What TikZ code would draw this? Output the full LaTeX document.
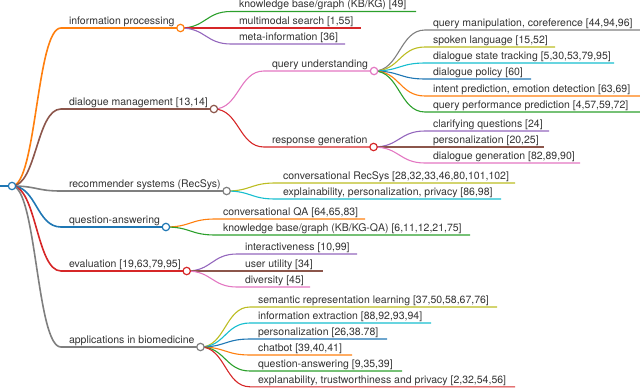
\documentclass[tikz,border=0pt]{standalone}
\usepackage{fontspec}
\setmainfont{TeX Gyre Heros}
\usepackage{xcolor}
\usetikzlibrary{calc}

\definecolor{tblue}{HTML}{1F77B4}
\definecolor{torange}{HTML}{FF7F0E}
\definecolor{tgreen}{HTML}{2CA02C}
\definecolor{tred}{HTML}{D62728}
\definecolor{tpurple}{HTML}{9467BD}
\definecolor{tbrown}{HTML}{8C564B}
\definecolor{tpink}{HTML}{E377C2}
\definecolor{tgray}{HTML}{7F7F7F}
\definecolor{tolive}{HTML}{BCBD22}
\definecolor{tcyan}{HTML}{17BECF}

\begin{document}
\begin{tikzpicture}[x=1pt, y=-1pt,
  lbl/.style={anchor=base west, inner xsep=6pt, inner ysep=0pt, outer sep=0pt,
    font=\fontsize{10.5}{12}\selectfont, text=black!80},
  curve/.style={to path={let \p1=(\tikztostart), \p2=(\tikztotarget) in
    .. controls ({(\x1+\x2)/2},\y1) and ({(\x1+\x2)/2},\y2) .. (\tikztotarget)}},
  rootln/.style={line width=2.6pt},
  mainln/.style={line width=1.6pt, curve},
  subln/.style={line width=1.1pt, curve},
  dot/.style={circle, minimum size=7.4pt, inner sep=0pt, line width=1.2pt, fill=white}]
  \useasboundingbox (0,0) rectangle (640,388);

  % Root
  \coordinate (rootS) at (0,186);
  \coordinate (rootC) at (12,186);
  \draw[rootln, tblue] (rootS) -- (rootC);

  % First level
  \coordinate (infS) at (61,28);
  \node[lbl] (inf) at ([shift={(2,-3.5)}]infS) {information processing};
  \coordinate (infC) at (infS -| inf.east);
  \draw[mainln, torange] (rootC) to (infS) -- (infC);

  \coordinate (dmS) at (61,109);
  \node[lbl] (dm) at ([shift={(2,-3.5)}]dmS) {dialogue management [13,14]};
  \coordinate (dmC) at (dmS -| dm.east);
  \draw[mainln, tbrown] (rootC) to (dmS) -- (dmC);

  \coordinate (rsS) at (61,191);
  \node[lbl] (rs) at ([shift={(2,-3.5)}]rsS) {recommender systems (RecSys)};
  \coordinate (rsC) at (rsS -| rs.east);
  \draw[mainln, tgray] (rootC) to (rsS) -- (rsC);

  \coordinate (qaS) at (61,227);
  \node[lbl] (qa) at ([shift={(2,-3.5)}]qaS) {question-answering};
  \coordinate (qaC) at (qaS -| qa.east);
  \draw[mainln, tblue] (rootC) to (qaS) -- (qaC);

  \coordinate (evS) at (61,271);
  \node[lbl] (ev) at ([shift={(2,-3.5)}]evS) {evaluation [19,63,79,95]};
  \coordinate (evC) at (evS -| ev.east);
  \draw[mainln, tred] (rootC) to (evS) -- (evC);

  \coordinate (apS) at (61,347);
  \node[lbl] (ap) at ([shift={(2,-3.5)}]apS) {applications in biomedicine};
  \coordinate (apC) at (apS -| ap.east);
  \draw[mainln, tgray] (rootC) to (apS) -- (apC);

  % Information processing
  \coordinate (kbS) at (231,11.5); \coordinate (kbE) at (416,11.5);
  \node[lbl] (kb) at ([shift={(2,-3.5)}]kbS) {knowledge base/graph (KB/KG) [49]};
  \draw[subln, tgreen] (infC) to (kbS) -- (kbE);

  \coordinate (mmS) at (231,28); \coordinate (mmE) at (361,28);
  \node[lbl] (mm) at ([shift={(2,-3.5)}]mmS) {multimodal search [1,55]};
  \draw[subln, tred] (infC) to (mmS) -- (mmE);

  \coordinate (miS) at (231,44); \coordinate (miE) at (345,44);
  \node[lbl] (mi) at ([shift={(2,-3.5)}]miS) {meta-information [36]};
  \draw[subln, tpurple] (infC) to (miS) -- (miE);

  % Dialogue management
  \coordinate (quS) at (264,71);
  \node[lbl] (qu) at ([shift={(2,-3.5)}]quS) {query understanding};
  \coordinate (quC) at (quS -| qu.east);
  \draw[subln, tpink] (dmC) to (quS) -- (quC);

  \coordinate (rgS) at (264,147);
  \node[lbl] (rg) at ([shift={(2,-3.5)}]rgS) {response generation};
  \coordinate (rgC) at (rgS -| rg.east);
  \draw[subln, tred] (dmC) to (rgS) -- (rgC);

  % Query understanding
  \coordinate (qmS) at (425,30); \coordinate (qmE) at (640,30);
  \node[lbl] (qm) at ([shift={(2,-3.5)}]qmS) {query manipulation, coreference [44,94,96]};
  \draw[subln, tgray] (quC) to (qmS) -- (qmE);

  \coordinate (slS) at (425,47); \coordinate (slE) at (555,47);
  \node[lbl] (sl) at ([shift={(2,-3.5)}]slS) {spoken language [15,52]};
  \draw[subln, tolive] (quC) to (slS) -- (slE);

  \coordinate (dstS) at (425,63); \coordinate (dstE) at (614,63);
  \node[lbl] (dst) at ([shift={(2,-3.5)}]dstS) {dialogue state tracking [5,30,53,79,95]};
  \draw[subln, tcyan] (quC) to (dstS) -- (dstE);

  \coordinate (dpS) at (425,79); \coordinate (dpE) at (531,79);
  \node[lbl] (dp) at ([shift={(2,-3.5)}]dpS) {dialogue policy [60]};
  \draw[subln, tblue] (quC) to (dpS) -- (dpE);

  \coordinate (iedS) at (425,96); \coordinate (iedE) at (640,96);
  \node[lbl] (ied) at ([shift={(2,-3.5)}]iedS) {intent prediction, emotion detection [63,69]};
  \draw[subln, torange] (quC) to (iedS) -- (iedE);

  \coordinate (qppS) at (425,112); \coordinate (qppE) at (640,112);
  \node[lbl] (qpp) at ([shift={(2,-3.5)}]qppS) {query performance prediction [4,57,59,72]};
  \draw[subln, tgreen] (quC) to (qppS) -- (qppE);

  % Response generation
  \coordinate (cqS) at (425,131); \coordinate (cqE) at (549,131);
  \node[lbl] (cq) at ([shift={(2,-3.5)}]cqS) {clarifying questions [24]};
  \draw[subln, tpurple] (rgC) to (cqS) -- (cqE);

  \coordinate (pzS) at (425,147); \coordinate (pzE) at (544,147);
  \node[lbl] (pz) at ([shift={(2,-3.5)}]pzS) {personalization [20,25]};
  \draw[subln, tbrown] (rgC) to (pzS) -- (pzE);

  \coordinate (dgS) at (425,163); \coordinate (dgE) at (580,163);
  \node[lbl] (dg) at ([shift={(2,-3.5)}]dgS) {dialogue generation [82,89,90]};
  \draw[subln, tpink] (rgC) to (dgS) -- (dgE);

  % Recommender systems
  \coordinate (crsS) at (275,183); \coordinate (crsE) at (515,183);
  \node[lbl] (crs) at ([shift={(2,-3.5)}]crsS) {conversational RecSys [28,32,33,46,80,101,102]};
  \draw[subln, tolive] (rsC) to (crsS) -- (crsE);

  \coordinate (eppS) at (275,199); \coordinate (eppE) at (501,199);
  \node[lbl] (epp) at ([shift={(2,-3.5)}]eppS) {explainability, personalization, privacy [86,98]};
  \draw[subln, tcyan] (rsC) to (eppS) -- (eppE);

  % Question-answering
  \coordinate (cqaS) at (215,219); \coordinate (cqaE) at (365,219);
  \node[lbl] (cqa) at ([shift={(2,-3.5)}]cqaS) {conversational QA [64,65,83]};
  \draw[subln, torange] (qaC) to (cqaS) -- (cqaE);

  \coordinate (kgqaS) at (215,235); \coordinate (kgqaE) at (470,235);
  \node[lbl] (kgqa) at ([shift={(2,-3.5)}]kgqaS) {knowledge base/graph (KB/KG-QA) [6,11,12,21,75]};
  \draw[subln, tgreen] (qaC) to (kgqaS) -- (kgqaE);

  % Evaluation
  \coordinate (iaS) at (237,254); \coordinate (iaE) at (357,254);
  \node[lbl] (ia) at ([shift={(2,-3.5)}]iaS) {interactiveness [10,99]};
  \draw[subln, tpurple] (evC) to (iaS) -- (iaE);

  \coordinate (uuS) at (237,271); \coordinate (uuE) at (323,271);
  \node[lbl] (uu) at ([shift={(2,-3.5)}]uuS) {user utility [34]};
  \draw[subln, tbrown] (evC) to (uuS) -- (uuE);

  \coordinate (dvS) at (237,287); \coordinate (dvE) at (310,287);
  \node[lbl] (dv) at ([shift={(2,-3.5)}]dvS) {diversity [45]};
  \draw[subln, tpink] (evC) to (dvS) -- (dvE);

  % Applications in biomedicine
  \coordinate (srlS) at (250,307); \coordinate (srlE) at (497,307);
  \node[lbl] (srl) at ([shift={(2,-3.5)}]srlS) {semantic representation learning [37,50,58,67,76]};
  \draw[subln, tolive] (apC) to (srlS) -- (srlE);

  \coordinate (ieS) at (250,323); \coordinate (ieE) at (431,323);
  \node[lbl] (ie) at ([shift={(2,-3.5)}]ieS) {information extraction [88,92,93,94]};
  \draw[subln, tcyan] (apC) to (ieS) -- (ieE);

  \coordinate (bpzS) at (250,339); \coordinate (bpzE) at (387,339);
  \node[lbl] (bpz) at ([shift={(2,-3.5)}]bpzS) {personalization [26,38.78]};
  \draw[subln, tblue] (apC) to (bpzS) -- (bpzE);

  \coordinate (cbS) at (250,355); \coordinate (cbE) at (352,355);
  \node[lbl] (cb) at ([shift={(2,-3.5)}]cbS) {chatbot [39,40,41]};
  \draw[subln, torange] (apC) to (cbS) -- (cbE);

  \coordinate (bqaS) at (250,371); \coordinate (bqaE) at (402,371);
  \node[lbl] (bqa) at ([shift={(2,-3.5)}]bqaS) {question-answering [9,35,39]};
  \draw[subln, tgreen] (apC) to (bqaS) -- (bqaE);

  \coordinate (etpS) at (250,386.8); \coordinate (etpE) at (515,386.8);
  \node[lbl] (etp) at ([shift={(2,-3.5)}]etpS) {explanability, trustworthiness and privacy [2,32,54,56]};
  \draw[subln, tred] (apC) to (etpS) -- (etpE);

  % Circles on top of the links
  \node[dot, draw=tblue] (rootD) at (rootC) {};
  \node[dot, draw=torange] (infD) at (infC) {};
  \node[dot, draw=tbrown] (dmD) at (dmC) {};
  \node[dot, draw=tgray] (rsD) at (rsC) {};
  \node[dot, draw=tblue] (qaD) at (qaC) {};
  \node[dot, draw=tred] (evD) at (evC) {};
  \node[dot, draw=tgray] (apD) at (apC) {};
  \node[dot, draw=tpink] (quD) at (quC) {};
  \node[dot, draw=tred] (rgD) at (rgC) {};
\end{tikzpicture}
\end{document}
